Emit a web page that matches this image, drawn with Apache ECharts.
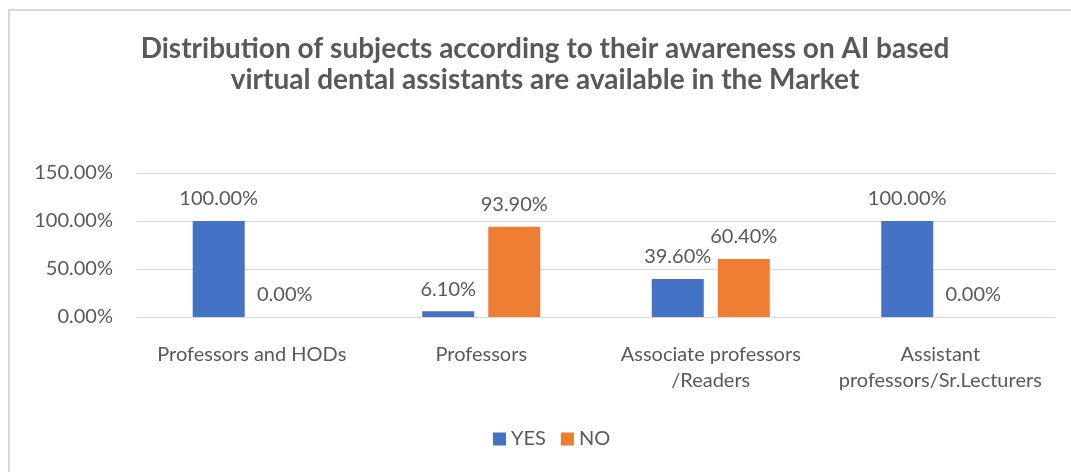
<!DOCTYPE html>
<html><head><meta charset="utf-8">
<script src="https://cdn.jsdelivr.net/npm/echarts@6/dist/echarts.min.js"></script>
<style>html,body{margin:0;padding:0;background:#fff}#c{width:1071px;height:472px}</style>
</head><body><div id="c"></div>
<script>
const categories = ['Professors and HODs', 'Professors', 'Associate professors\n/Readers', 'Assistant\nprofessors/Sr.Lecturers'];
const yesValues = [100, 6.1, 39.6, 100];
const noValues = [0, 93.9, 60.4, 0];
const seriesNames = ['YES', 'NO'];
const titleText = 'Distribution of subjects according to their awareness on AI based\nvirtual dental assistants are available in the Market';

const FONT = 'Lato';
const TXT = '#595959';
const chart = echarts.init(document.getElementById('c'));
const lbl = {
  show: true, position: 'top', distance: 12,
  fontFamily: FONT, fontSize: 20, color: TXT,
  formatter: p => p.value.toFixed(2) + '%'
};
chart.setOption({
  animation: false,
  graphic: [{
    type: 'rect', shape: { x: 9, y: 10, width: 1100, height: 500 },
    style: { fill: 'none', stroke: '#d9d9d9', lineWidth: 2 }, z: -1
  }],
  title: {
    text: titleText, left: 540, textAlign: 'center', top: 28,
    textStyle: { fontFamily: FONT, fontSize: 28, fontWeight: 'bold', color: TXT, lineHeight: 31 }
  },
  legend: {
    data: seriesNames, bottom: 18, left: 488, icon: 'rect', itemWidth: 13, itemHeight: 13, itemGap: 15,
    textStyle: { fontFamily: FONT, fontSize: 20, color: TXT }
  },
  grid: { left: 137, right: 16, top: 173, bottom: 155 },
  xAxis: {
    type: 'category', data: categories,
    axisLine: { lineStyle: { color: '#d9d9d9' } }, axisTick: { show: false },
    axisLabel: { fontFamily: FONT, fontSize: 20, color: TXT, margin: 25, lineHeight: 26, interval: 0 }
  },
  yAxis: {
    type: 'value', min: 0, max: 150, interval: 50,
    axisLine: { show: false }, axisTick: { show: false },
    splitLine: { lineStyle: { color: '#d9d9d9' } },
    axisLabel: { fontFamily: FONT, fontSize: 20, color: TXT, margin: 24, formatter: v => v.toFixed(2) + '%' }
  },
  series: [
    { name: seriesNames[0], type: 'bar', data: yesValues, barWidth: 52, barGap: '27%', itemStyle: { color: '#4472C4' }, label: lbl },
    { name: seriesNames[1], type: 'bar', data: noValues, barWidth: 52, itemStyle: { color: '#ED7D31' }, label: lbl }
  ]
});
</script></body></html>
